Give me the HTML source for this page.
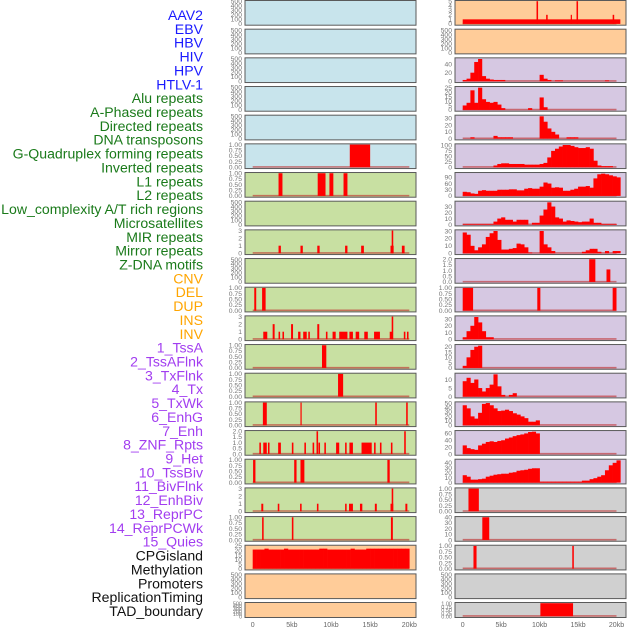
<!DOCTYPE html>
<html><head><meta charset="utf-8">
<style>
html,body{margin:0;padding:0;background:#fff;}
#wrap{position:relative;width:630px;height:630px;overflow:hidden;font-family:"Liberation Sans",sans-serif;}
svg{position:absolute;left:0;top:0;}
</style></head>
<body>
<div id="wrap">
<svg id="chart" width="630" height="630" viewBox="0 0 630 630"></svg>
</div>
<script>
// ---------- labels ----------
const labelNames = ["AAV2","EBV","HBV","HIV","HPV","HTLV-1","Alu repeats","A-Phased repeats","Directed repeats","DNA transposons","G-Quadruplex forming repeats","Inverted repeats","L1 repeats","L2 repeats","Low_complexity A/T rich regions","Microsatellites","MIR repeats","Mirror repeats","Z-DNA motifs","CNV","DEL","DUP","INS","INV","1_TssA","2_TssAFlnk","3_TxFlnk","4_Tx","5_TxWk","6_EnhG","7_Enh","8_ZNF_Rpts","9_Het","10_TssBiv","11_BivFlnk","12_EnhBiv","13_ReprPC","14_ReprPCWk","15_Quies","CPGisland","Methylation","Promoters","ReplicationTiming","TAD_boundary"];
const labelGroups = [0,0,0,0,0,0,1,1,1,1,1,1,1,1,1,1,1,1,1,2,2,2,2,2,3,3,3,3,3,3,3,3,3,3,3,3,3,3,3,4,4,4,4,4];
const groupColors = ["#1a1aff","#1a7a1a","#ffa500","#a23df0","#111111"];

// ---------- x axis ----------
const xTickValues = [0,5,10,15,20];
const xTickLabels = ["0","5kb","10kb","15kb","20kb"];

// ---------- tick sets ----------
const ticks500 = [0,100,200,300,400,500];
const ticks01 = [0,0.25,0.5,0.75,1];
const ticks02 = [0,0.5,1,1.5,2];
const ticks3 = [0,1,2,3];
const ticks5 = [0,1,2,3,4,5];
const ticks25 = [0,5,10,15,20,25];

// ---------- left column segment data [startKb, endKb, value] ----------
const segL5 = [[12.4,15.0,1]];
const segL6 = [[3.3,3.8,1],[8.3,9.3,1],[9.8,10.3,1],[11.6,12.1,1]];
const segL8 = [[3.3,3.6,1],[6.1,6.4,1],[8.25,8.55,1],[11.8,12.1,1],[13.85,14.2,1],[17.6,18.0,1],[17.75,17.95,3],[19.05,19.4,1]];
const segL10 = [[0.2,0.45,1],[1.2,1.65,1]];
const segL11 = [[1.35,1.86,1],[2.55,2.8,2],[3.3,3.5,1],[3.8,4.0,1],[4.9,5.15,2],[5.8,6.1,1],[6.45,6.9,1],[7.1,7.3,1],[8.25,8.5,2],[9.35,9.55,1],[10.2,10.6,1],[11.05,12.1,1],[12.35,12.8,1],[13.15,13.6,1],[14.25,14.7,1],[15.5,16.25,1],[17.5,17.9,1],[17.75,17.95,3],[19.3,19.5,1],[19.7,19.9,1]];
const segL12 = [[8.85,9.4,1]];
const segL13 = [[10.9,11.55,1]];
const segL14 = [[1.3,1.8,1],[6.1,6.25,1],[15.65,15.85,1],[19.6,19.8,1]];
const segL15 = [[0.85,1.05,1],[1.35,1.8,1],[1.95,2.15,1],[3.25,3.6,1],[5.0,5.2,1],[6.6,6.8,1],[7.65,7.85,1],[8.15,8.35,2],[8.4,8.6,1],[9.15,9.35,1],[10.65,11.05,1],[11.8,12.0,1],[12.35,12.8,1],[13.9,15.2,1],[15.5,15.7,1],[16.25,16.45,1],[17.65,17.85,1],[19.35,19.55,2]];
const segL16 = [[0.05,0.35,1],[5.3,5.6,1],[6.1,6.6,1],[17.2,17.5,1]];
const segL17 = [[1.1,1.35,1],[3.2,3.4,1],[6.05,6.25,1],[8.2,8.4,1],[11.8,12.0,1],[12.3,12.8,1],[13.7,14.0,1],[15.6,15.85,1],[17.6,17.95,1],[17.75,17.95,3],[19.5,19.75,1]];
const segL18 = [[1.2,1.4,1],[5.0,5.2,1],[17.65,17.9,1]];
const histL19 = [21,21,21,22,21,21,21,21,22,21,21,21,21,21,21,21,21,22,22,21,21,21,21,21,21,22,21,21,21,22,22,22,22,22,22,22,22,22,22,22];

// ---------- right column data ----------
const segR0 = [[0,20.5,1],[9.6,9.8,5],[10.85,11.05,2],[14.05,14.2,2],[14.8,15.0,5],[19.5,19.7,2]];
const histR2 = [3,6,20,45,52,12,6,4,3,3,3,0,0,0,0,0,0,0,0,0,15,6,3,0,2,2,0,0,0,0,0,0,0,0,0,0,0,2,0,0,0];
const histR3 = [5,8,22,8,25,12,9,8,9,6,2,0,0,0,0,0,0,2,0,0,14,3,0,0,0,0,0,0,0,0,0,0,0,0,0,0,0,0,0,0,0];
const histR4 = [0,0,2,0,0,0,0,0,4,2,2,2,2,0,0,0,0,0,0,0,33,25,15,10,6,0,0,2,2,2,0,0,0,0,0,0,0,0,0,0,0];
const histR5 = [0,0,0,0,0,0,0,0,8,15,18,18,15,15,15,15,12,12,12,12,15,20,45,75,85,95,102,102,98,92,88,88,92,85,30,8,5,5,5,0,0];
const histR6 = [20,18,12,10,25,28,25,25,25,30,30,30,32,32,27,27,35,38,35,35,45,65,60,40,42,40,25,25,30,35,45,45,48,40,85,105,108,105,100,95,90];
const histR7 = [1,1,1,1,1,1,1,1,5,10,12,8,8,5,8,8,8,0,3,3,15,25,37,30,12,10,5,7,6,5,4,5,5,10,3,3,1,1,1,1,0];
const histR8 = [28,25,10,4,8,12,22,27,30,18,5,5,6,7,13,12,8,1,0,0,30,12,8,3,0,0,0,0,0,0,0,2,4,6,6,2,0,3,0,3,3];
const segR9 = [[16.45,17.25,2],[18.7,19.2,1.1]];
const segR10 = [[0,1.35,1],[9.7,10.1,1],[19.5,20.0,1]];
const histR11 = [3,12,20,33,25,12,3,3,0,0,0,0,0,0,0,0,0,0,0,0,0,0,0,0,0,0,0,0,0,0,0,0,0,0,0,0,0,0,0,0,0];
const histR12 = [2,10,17,20,21,0,0,0,0,0,0,0,0,0,0,0,0,0,0,0,0,0,0,0,0,0,0,0,0,0,0,0,0,0,0,0,0,0,0,0,0];
const histR13 = [9,11,8,10,5,3,5,7,13,6,1,0,1,2,0,0,0,0,0,0,0,0,0,0,0,0,0,0,0,0,0,0,0,0,0,0,0,0,0,0,0];
const histR14 = [45,38,20,15,28,48,50,45,38,32,33,35,32,27,24,20,16,8,8,11,0,0,0,0,0,0,0,0,0,0,0,0,0,0,0,0,0,0,0,0,0];
const histR15 = [25,17,14,12,25,30,35,37,35,38,40,45,48,52,55,57,60,64,65,60,0,0,0,0,0,0,0,0,0,0,0,0,0,0,0,0,0,0,0,0,0];
const histR16 = [15,12,6,6,7,8,12,14,16,17,18,18,20,21,24,25,26,28,29,29,2,2,2,2,2,2,2,2,2,2,2,4,4,7,9,12,15,25,35,40,45];
const segR17 = [[0.75,2.1,1]];
const segR18 = [[2.55,3.45,40]];
const segR19 = [[1.4,1.8,1],[14.25,14.45,1]];
const segR21 = [[10.1,14.35,1]];

const BG_BLUE="#c8e4ec", BG_GREEN="#c8e0a2", BG_ORANGE="#ffcc99", BG_PURPLE="#d6c8e2", BG_GRAY="#d0d0d0";

const panels = [];
for (let r=0;r<5;r++) panels.push({row:r,col:0,bg:BG_BLUE,ticks:ticks500});
panels.push({row:5,col:0,bg:BG_BLUE,ticks:ticks01,segs:segL5,dec:2});
panels.push({row:6,col:0,bg:BG_GREEN,ticks:ticks01,segs:segL6,dec:2});
panels.push({row:7,col:0,bg:BG_GREEN,ticks:ticks500});
panels.push({row:8,col:0,bg:BG_GREEN,ticks:ticks3,segs:segL8});
panels.push({row:9,col:0,bg:BG_GREEN,ticks:ticks500});
panels.push({row:10,col:0,bg:BG_GREEN,ticks:ticks01,segs:segL10,dec:2});
panels.push({row:11,col:0,bg:BG_GREEN,ticks:ticks3,segs:segL11});
panels.push({row:12,col:0,bg:BG_GREEN,ticks:ticks01,segs:segL12,dec:2});
panels.push({row:13,col:0,bg:BG_GREEN,ticks:ticks01,segs:segL13,dec:2});
panels.push({row:14,col:0,bg:BG_GREEN,ticks:ticks01,segs:segL14,dec:2});
panels.push({row:15,col:0,bg:BG_GREEN,ticks:ticks02,segs:segL15,dec:1});
panels.push({row:16,col:0,bg:BG_GREEN,ticks:ticks01,segs:segL16,dec:2});
panels.push({row:17,col:0,bg:BG_GREEN,ticks:ticks3,segs:segL17});
panels.push({row:18,col:0,bg:BG_GREEN,ticks:ticks01,segs:segL18,dec:2});
panels.push({row:19,col:0,bg:BG_ORANGE,ticks:ticks25,hist:histL19,ymax:25});
panels.push({row:20,col:0,bg:BG_ORANGE,ticks:ticks500});
panels.push({row:21,col:0,bg:BG_ORANGE,ticks:ticks500});

panels.push({row:0,col:1,bg:BG_ORANGE,ticks:ticks5,segs:segR0});
panels.push({row:1,col:1,bg:BG_ORANGE,ticks:ticks500});
panels.push({row:2,col:1,bg:BG_PURPLE,ticks:[0,20,40],hist:histR2});
panels.push({row:3,col:1,bg:BG_PURPLE,ticks:[0,5,10,15,20,25],hist:histR3});
panels.push({row:4,col:1,bg:BG_PURPLE,ticks:[0,10,20,30],hist:histR4});
panels.push({row:5,col:1,bg:BG_PURPLE,ticks:[0,25,50,75,100],hist:histR5});
panels.push({row:6,col:1,bg:BG_PURPLE,ticks:[0,30,60,90],hist:histR6});
panels.push({row:7,col:1,bg:BG_PURPLE,ticks:[0,10,20,30],hist:histR7});
panels.push({row:8,col:1,bg:BG_PURPLE,ticks:[0,10,20,30],hist:histR8});
panels.push({row:9,col:1,bg:BG_PURPLE,ticks:ticks02,segs:segR9,dec:1});
panels.push({row:10,col:1,bg:BG_PURPLE,ticks:ticks01,segs:segR10,dec:2});
panels.push({row:11,col:1,bg:BG_PURPLE,ticks:[0,10,20,30],hist:histR11});
panels.push({row:12,col:1,bg:BG_PURPLE,ticks:[0,5,10,15,20],hist:histR12});
panels.push({row:13,col:1,bg:BG_PURPLE,ticks:[0,5,10],hist:histR13});
panels.push({row:14,col:1,bg:BG_PURPLE,ticks:[0,10,20,30,40,50],hist:histR14});
panels.push({row:15,col:1,bg:BG_PURPLE,ticks:[0,20,40,60],hist:histR15});
panels.push({row:16,col:1,bg:BG_PURPLE,ticks:[0,10,20,30,40],hist:histR16});
panels.push({row:17,col:1,bg:BG_GRAY,ticks:ticks01,segs:segR17,dec:2});
panels.push({row:18,col:1,bg:BG_GRAY,ticks:[0,10,20,30,40],segs:segR18});
panels.push({row:19,col:1,bg:BG_GRAY,ticks:ticks01,segs:segR19,dec:2});
panels.push({row:20,col:1,bg:BG_GRAY,ticks:ticks500});
panels.push({row:21,col:1,bg:BG_GRAY,ticks:ticks01,segs:segR21,dec:2});

const NS="http://www.w3.org/2000/svg";
const svg=document.getElementById('chart');
function mk(tag,attrs,parent){const e=document.createElementNS(NS,tag);for(const k in attrs)e.setAttribute(k,attrs[k]);(parent||svg).appendChild(e);return e;}

const colFrameX=[245,455], frameW=171;
const colX0=[252.7,462.7], colPxPerKb=[7.83,7.69];
function xScale(col,kb){return colX0[col]+kb*colPxPerKb[col];}
function frameTop(row){return row===21?602:row*28.67;}
function frameH(row){return row===21?15:24.7;}

labelNames.forEach((t,i)=>{
  const el=mk('text',{x:203,y:15+i*13.86+5,'text-anchor':'end','font-size':'14.1',fill:groupColors[labelGroups[i]],'font-family':'Liberation Sans, sans-serif'});
  
  
  el.textContent=t;
});

function fmt(v,dec){return dec?v.toFixed(dec):String(v);}

panels.forEach(p=>{
  const g=mk('g',{});
  
  
  const fx=colFrameX[p.col], fy=frameTop(p.row), fh=frameH(p.row);
  const bg=mk('rect',{x:fx,y:fy+0.5,width:frameW,height:fh,fill:p.bg,stroke:'#5a5a5a','stroke-width':1},g);
  
  
  const yBot=fy+fh-0.8, yTop=fy+1.2;
  let ymax;
  if(p.ymax) ymax=p.ymax;
  else if(p.hist) ymax=Math.max(...p.hist)*1.02;
  else ymax=p.ticks[p.ticks.length-1]*1.0;
  if(!p.hist && p.ticks===ticks500) ymax=505;
  const yScale=v=>yBot-(v/ymax)*(yBot-yTop);
  const fs=p.row===21?5.5:6.8;
  p.ticks.forEach(t=>{
    const y=yScale(t);
    const tl=mk('text',{x:fx-3,y:y+2.3,'text-anchor':'end','font-size':fs,fill:'#777','font-family':'Liberation Sans, sans-serif'},g);
    
    
    tl.textContent=fmt(t,p.dec);
  });
  if(p.segs||p.hist){
    const bl=mk('line',{x1:xScale(p.col,0),x2:xScale(p.col,20),y1:yBot-0.3,y2:yBot-0.3,stroke:'rgba(190,40,40,0.6)','stroke-width':1.6},g);
    
    
  }
  if(p.hist){
    p.hist.forEach((v,i)=>{
      if(v<=0) return;
      const x1=xScale(p.col,i*0.5), x2=xScale(p.col,(i+1)*0.5);
      const b=mk('rect',{x:x1,y:yScale(v),width:x2-x1+0.3,height:yBot-yScale(v),fill:'#ff0000'},g);
      
      
    });
  }
  if(p.segs){
    p.segs.forEach(s=>{
      const x1=xScale(p.col,s[0]), x2=xScale(p.col,s[1]);
      const b=mk('rect',{x:x1,y:yScale(s[2]),width:Math.max(1.2,x2-x1),height:yBot-yScale(s[2]),fill:'#ff0000'},g);
      
      
    });
  }
});

[0,1].forEach(col=>{
  xTickValues.forEach((v,i)=>{
    const t=mk('text',{x:xScale(col,v),y:627,'text-anchor':'middle','font-size':7,fill:'#666','font-family':'Liberation Sans, sans-serif'});
    
    
    t.textContent=xTickLabels[i];
  });
});
</script>
</body></html>
